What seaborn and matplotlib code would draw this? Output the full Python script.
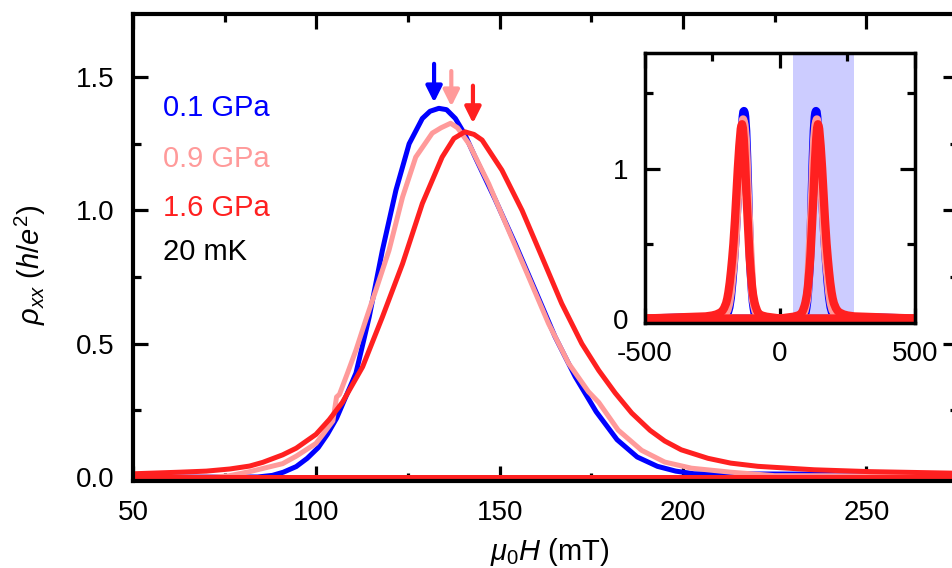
import numpy as np
import pandas as pd
import matplotlib
matplotlib.use("Agg")
import matplotlib.pyplot as plt
from matplotlib.ticker import MultipleLocator, FixedLocator, FormatStrFormatter
import seaborn as sns

# rho_xx (h/e^2) vs mu0H (mT), up-sweep branch
field_01 = [84, 88, 91, 94.5, 97.5, 100.5, 103, 105.5, 108, 110.8, 114.4, 118, 121.7,
            125.3, 128.9, 131, 133.4, 135.5, 137.9, 140.5, 143.3, 148.8, 154.2, 159.7,
            165.1, 170.6, 176.3, 182, 187.5, 193, 198, 203]
rho_01 = [0, 0.006, 0.018, 0.039, 0.07, 0.11, 0.16, 0.22, 0.30, 0.39, 0.60, 0.85, 1.076,
          1.25, 1.345, 1.372, 1.383, 1.378, 1.345, 1.285, 1.20, 1.04, 0.876, 0.70,
          0.526, 0.376, 0.245, 0.14, 0.075, 0.04, 0.022, 0.012]

field_09 = [72, 76, 81.8, 85.4, 90.8, 94.5, 99.9, 101.7, 104.5, 105.5, 106.3, 108.5, 110.8,
            113.5, 116.2, 119.8, 123.5, 127.1, 131.6, 134, 136.6, 138.5, 141.6, 147, 152.4,
            157.9, 163.3, 168.8, 174.2, 177, 182.3, 188.7, 195, 202.3, 213, 225]
rho_09 = [0, 0.004, 0.02, 0.032, 0.05, 0.078, 0.126, 0.158, 0.21, 0.30, 0.31, 0.39, 0.476,
          0.59, 0.70, 0.85, 1.05, 1.20, 1.29, 1.31, 1.327, 1.31, 1.25, 1.10, 0.926,
          0.75, 0.576, 0.426, 0.32, 0.28, 0.176, 0.10, 0.056, 0.033, 0.018, 0.005]

field_16 = [50, 62.8, 70, 76.4, 81.8, 85.4, 90.8, 94.5, 99.9, 103.5, 107.1, 112.6, 118, 123.5,
            128.9, 134.3, 137.5, 140.5, 143, 145.2, 150.6, 156.1, 161.5, 166.9, 172.4,
            177, 181.5, 186, 191, 195, 199.5, 206.8, 213, 220.4, 235.8, 251, 275]
rho_16 = [0.012, 0.018, 0.022, 0.03, 0.041, 0.055, 0.083, 0.108, 0.16, 0.215, 0.28, 0.413,
          0.60, 0.80, 1.026, 1.20, 1.27, 1.295, 1.285, 1.264, 1.151, 1.0, 0.826, 0.651,
          0.50, 0.40, 0.315, 0.24, 0.175, 0.135, 0.102, 0.07, 0.052, 0.04, 0.027, 0.02, 0.014]

pressures = ["0.1 GPa", "0.9 GPa", "1.6 GPa"]
colors = ["#0000FF", "#FF9A9A", "#FF2020"]
fields = [field_01, field_09, field_16]
rhos = [rho_01, rho_09, rho_16]

# arrows marking the peak positions
arrow_field = [132.1, 136.8, 142.7]
arrow_tail = [1.55, 1.523, 1.468]
arrow_tip = [1.405, 1.39, 1.327]

sweep_limit = 500          # full sweep range of the inset (mT)
shade_range = [50, 275]    # region shown in the main panel


def sweep_frame(x, y):
    # up-sweep: zero at negative field, down-sweep is its mirror image
    up_x = [-sweep_limit, 0] + list(x) + [sweep_limit]
    up_y = [0, 0] + list(y) + [0]
    up = pd.DataFrame({"field": up_x, "rho": up_y})
    down = pd.DataFrame({"field": [-v for v in up_x], "rho": up_y})
    return up, down


sns.set_theme(style="ticks")
plt.rcParams["font.family"] = ["Liberation Sans", "DejaVu Sans"]
plt.rcParams["mathtext.fontset"] = "custom"
plt.rcParams["mathtext.rm"] = "Liberation Sans"
plt.rcParams["mathtext.it"] = "Liberation Sans:italic"
plt.rcParams["axes.unicode_minus"] = False
plt.rcParams["text.color"] = "black"
plt.rcParams["axes.labelcolor"] = "black"

fig = plt.figure(figsize=(9.53, 5.68), dpi=100)
ax = fig.add_axes([0.1396, 0.1532, 0.8657, 0.8222])
ins = fig.add_axes([0.6768, 0.4313, 0.2833, 0.4754])

for x, y, c in zip(fields, rhos, colors):
    up, down = sweep_frame(x, y)
    for target, lw in ((ax, 3.6), (ins, 6)):
        sns.lineplot(data=up, x="field", y="rho", ax=target, color=c, lw=lw,
                     sort=False, estimator=None, legend=False)
        sns.lineplot(data=down, x="field", y="rho", ax=target, color=c, lw=lw,
                     sort=False, estimator=None, legend=False)

# main panel
ax.set_xlim(50, 275)
ax.set_ylim(-0.015, 1.737)
ax.xaxis.set_major_locator(MultipleLocator(50))
ax.xaxis.set_minor_locator(MultipleLocator(25))
ax.yaxis.set_major_locator(MultipleLocator(0.5))
ax.yaxis.set_minor_locator(MultipleLocator(0.25))
ax.yaxis.set_major_formatter(FormatStrFormatter("%.1f"))
ax.tick_params(which="both", direction="in", top=True, right=True, width=2.3,
               labelsize=20, colors="black")
ax.tick_params(which="major", length=11)
ax.tick_params(which="minor", length=6)
ax.tick_params(axis="x", pad=14)
ax.tick_params(axis="y", pad=13)
for s in ax.spines.values():
    s.set_linewidth(3)
    s.set_color("black")

ax.set_xlabel(r"$\mu_0H$ (mT)", fontsize=21, color="black")
ax.set_ylabel(r"$\rho_{xx}$ ($h/e^2$)", fontsize=21, color="black")
ax.xaxis.set_label_coords(0.505, -0.118)
ax.yaxis.set_label_coords(-0.103, 0.462)

label_y = [1.385, 1.193, 1.009]
for name, c, ly in zip(pressures, colors, label_y):
    ax.text(58.2, ly, name, color=c, fontsize=21, va="center", ha="left")
ax.text(58.2, 0.844, "20 mK", color="black", fontsize=21, va="center", ha="left")

for fx, t0, t1, c in zip(arrow_field, arrow_tail, arrow_tip, colors):
    ax.annotate("", xy=(fx, t1), xytext=(fx, t0),
                arrowprops=dict(arrowstyle="-|>", color=c, lw=3,
                                mutation_scale=24, shrinkA=0, shrinkB=0))

# inset: full sweep, shaded part is the main panel
ins.axvspan(shade_range[0], shade_range[1], color="#CCCCFF", lw=0, zorder=0)
ins.set_xlim(-sweep_limit, sweep_limit)
ins.set_ylim(-0.03, 1.77)
ins.xaxis.set_major_locator(FixedLocator([-500, 0, 500]))
ins.xaxis.set_minor_locator(FixedLocator([-250, 250]))
ins.yaxis.set_major_locator(MultipleLocator(1))
ins.yaxis.set_minor_locator(MultipleLocator(0.5))
ins.tick_params(which="both", direction="in", top=True, right=True, width=2.3,
                labelsize=20, colors="black")
ins.tick_params(which="major", length=11)
ins.tick_params(which="minor", length=6)
ins.tick_params(axis="x", pad=13)
ins.tick_params(axis="y", pad=12)
ins.set_xlabel("")
ins.set_ylabel("")
for s in ins.spines.values():
    s.set_linewidth(2.5)
    s.set_color("black")

fig.savefig("out.png", dpi=100)
